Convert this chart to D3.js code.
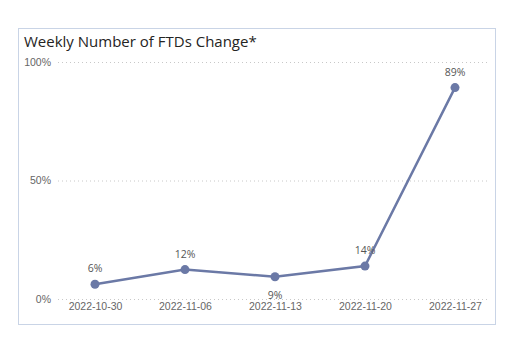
<!DOCTYPE html>
<html><head><meta charset="utf-8">
<script src="https://cdn.jsdelivr.net/npm/d3@7"></script>
<style>body{margin:0;background:#fff;}svg{display:block;font-family:"Open Sans","Noto Sans",sans-serif;}</style>
</head><body>
<svg id="c" width="532" height="349"></svg>
<script>
const title = "Weekly Number of FTDs Change*";
const weeks = ["2022-10-30","2022-11-06","2022-11-13","2022-11-20","2022-11-27"];
const changes = [6.2, 12.4, 9.4, 13.9, 89.2];
const labelBelow = [false, false, true, false, false];
const yTicks = [0, 50, 100];

const svg = d3.select("#c");
svg.append("rect").attr("x",18.5).attr("y",28.5).attr("width",477).attr("height",296)
  .attr("fill","#fff").attr("stroke","#c9d4e6").attr("stroke-width",1);
svg.append("text").attr("x",24).attr("y",47).attr("font-size",15).attr("fill","#252423").text(title);

const x = d3.scalePoint().domain(weeks).range([95,455]);
const y = d3.scaleLinear().domain([0,100]).range([299,62]);

const g = svg.append("g");
g.selectAll("line.grid").data(yTicks).join("line")
  .attr("x1",58).attr("x2",490).attr("y1",d=>y(d)+0.5).attr("y2",d=>y(d)+0.5)
  .attr("stroke","#c8c8c8").attr("stroke-dasharray","1,3");

const yAxis = d3.axisLeft(y).tickValues(yTicks).tickFormat(d=>d+"%").tickSize(0).tickPadding(0);
const ya = svg.append("g").attr("transform","translate(51,0)").call(yAxis);
ya.select(".domain").remove();
ya.selectAll("text").attr("font-size",10.5).attr("fill","#666").attr("font-family","inherit");

const xAxis = d3.axisBottom(x).tickSize(0).tickPadding(0);
const xa = svg.append("g").attr("transform","translate(0,303)").call(xAxis);
xa.select(".domain").remove();
xa.selectAll("text").attr("font-size",10.5).attr("fill","#666").attr("font-family","inherit").attr("dy","0.71em");

const data = weeks.map((w,i)=>({w, v:changes[i], below:labelBelow[i]}));
svg.append("path").datum(data)
  .attr("fill","none").attr("stroke","#6b79a6").attr("stroke-width",2.5)
  .attr("d", d3.line().x(d=>x(d.w)).y(d=>y(d.v)));
svg.selectAll("circle.pt").data(data).join("circle")
  .attr("cx",d=>x(d.w)).attr("cy",d=>y(d.v)).attr("r",4.5).attr("fill","#6b79a6");
svg.selectAll("text.lbl").data(data).join("text")
  .attr("x",d=>x(d.w)).attr("y",d=>d.below? y(d.v)+22 : y(d.v)-12)
  .attr("text-anchor","middle").attr("font-size",10.5).attr("fill","#555")
  .text(d=>Math.round(d.v)+"%");
</script>
</body></html>
